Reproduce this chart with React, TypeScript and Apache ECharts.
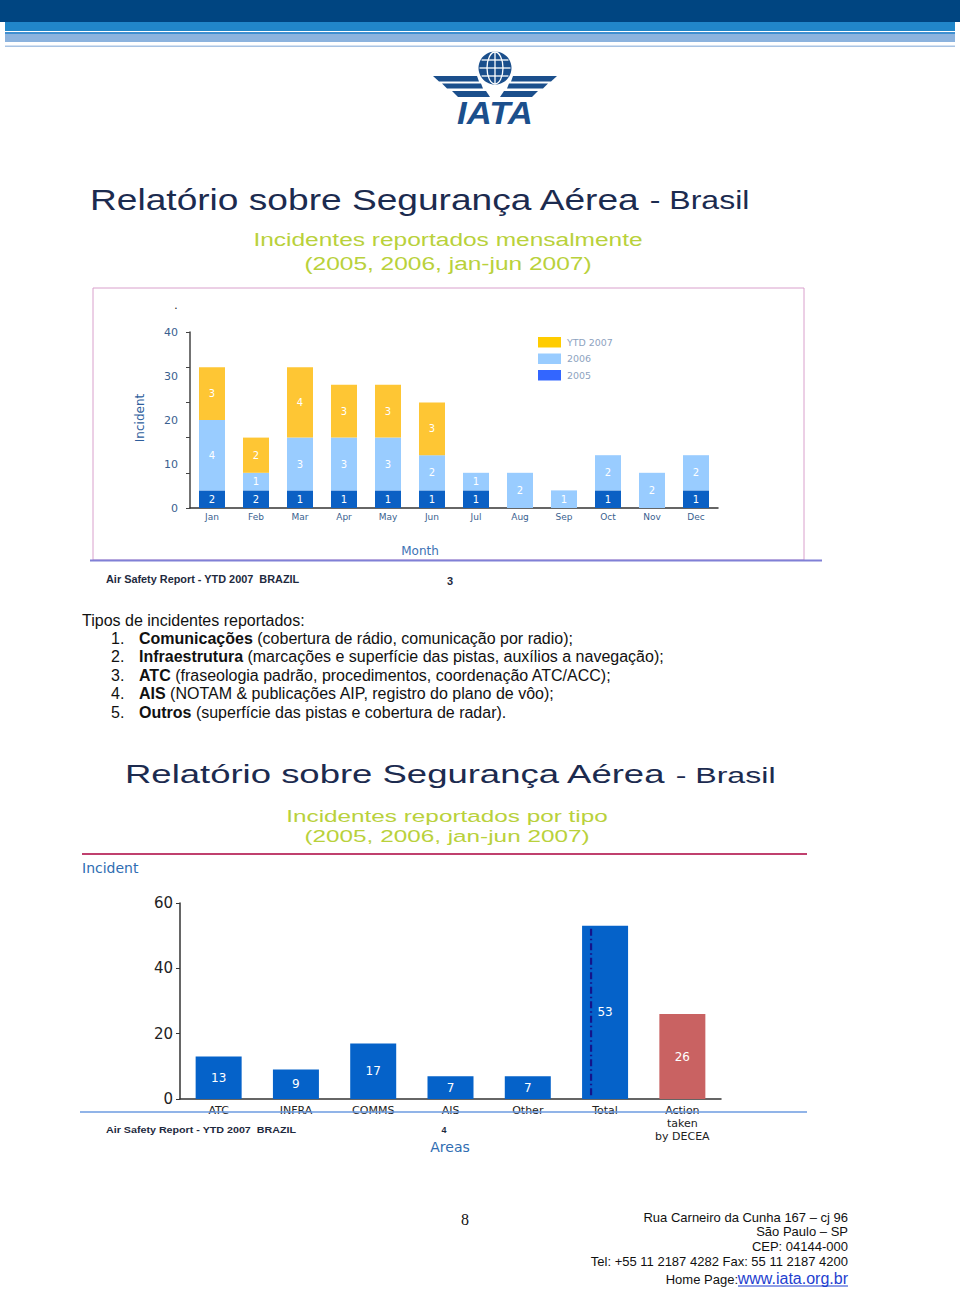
import React, { useEffect, useRef } from "react";
import * as echarts from "echarts";

// ---- Monthly chart data ----
const months = ["Jan", "Feb", "Mar", "Apr", "May", "Jun", "Jul", "Aug", "Sep", "Oct", "Nov", "Dec"];
// counts printed in the segments
const count2005 = [2, 2, 1, 1, 1, 1, 1, null, null, 1, null, 1];
const count2006 = [4, 1, 3, 3, 3, 2, 1, 2, 1, 2, 2, 2];
const count2007 = [3, 2, 4, 3, 3, 3, null, null, null, null, null, null];
// segment heights as drawn against the axis
const height2005 = [4, 4, 4, 4, 4, 4, 4, null, null, 4, null, 4];
const height2006 = [16, 4, 12, 12, 12, 8, 4, 8, 4, 8, 8, 8];
const height2007 = [12, 8, 16, 12, 12, 12, null, null, null, null, null, null];
const legendNames = ["YTD 2007", "2006", "2005"];

// ---- By type chart data ----
const areas = ["ATC", "INFRA", "COMMS", "AIS", "Other", "Total", "Action\ntaken\nby DECEA"];
const areaValues = [13, 9, 17, 7, 7, 53, 26];

const listItems = [
  ["Comunicações", " (cobertura de rádio, comunicação por radio);"],
  ["Infraestrutura", " (marcações e superfície das pistas, auxílios a navegação);"],
  ["ATC", " (fraseologia padrão, procedimentos, coordenação ATC/ACC);"],
  ["AIS", " (NOTAM & publicações AIP, registro do plano de vôo);"],
  ["Outros", " (superfície das pistas e cobertura de radar)."],
];

const addressLines = [
  "Rua Carneiro da Cunha 167 – cj 96",
  "São Paulo – SP",
  "CEP: 04144-000",
  "Tel: +55 11 2187 4282 Fax: 55 11 2187 4200",
];

const C2005 = "#0b60c4";
const C2006 = "#99ccff";
const C2007 = "#fec634";
const NAVY = "#1b4f8c";
const GREEN = "#b9d13b";
const SANS = "Liberation Sans";
const VERD = "DejaVu Sans";

function txt(text: string, x: number, y: number, o: any = {}) {
  const { align = "left", vAlign = "middle", size = 12, color = "#111", weight = "normal", family = SANS, scaleX = 1, rotation = 0, style = {}, z = 10 } = o;
  return {
    type: "text",
    x,
    y,
    scaleX,
    rotation,
    z,
    style: {
      text,
      textAlign: align,
      align,
      textVerticalAlign: vAlign,
      verticalAlign: vAlign,
      fontSize: size,
      fontFamily: family,
      fontWeight: weight,
      fill: color,
      ...style,
    },
  };
}

function rect(x: number, y: number, width: number, height: number, fill: string, extra: any = {}) {
  return { type: "rect", shape: { x, y, width, height }, style: { fill, ...extra }, z: 1 };
}

function poly(points: number[][], fill: string) {
  return { type: "polygon", shape: { points }, style: { fill }, z: 5 };
}

function buildGraphics(): any[] {
  const g: any[] = [];
  // header bands
  g.push(rect(0, 0, 960, 22, "#004581"));
  g.push(rect(5, 22, 950, 9, "#2186c9"));
  g.push(rect(5, 32, 950, 2, "#3f8fd0"));
  g.push(rect(5, 34, 950, 8, "#8cb3de"));
  g.push(rect(5, 45.5, 950, 1.6, "#a9c4e4"));

  // IATA logo
  const cx = 495;
  g.push({ type: "circle", shape: { cx, cy: 68, r: 16.5 }, style: { fill: NAVY }, z: 5 });
  g.push({ type: "ellipse", shape: { cx, cy: 68, rx: 8, ry: 16 }, style: { fill: "none", stroke: "#fff", lineWidth: 1.3 }, z: 6 });
  g.push({ type: "line", shape: { x1: cx, y1: 52, x2: cx, y2: 84 }, style: { stroke: "#fff", lineWidth: 1.3 }, z: 6 });
  [60, 68, 76].forEach((yy) => {
    const dy = Math.abs(yy - 68);
    const hw = Math.sqrt(16.5 * 16.5 - dy * dy) - 1;
    g.push({ type: "line", shape: { x1: cx - hw, y1: yy, x2: cx + hw, y2: yy }, style: { stroke: "#fff", lineWidth: 1.3 }, z: 6 });
  });
  const wing = [
    [[433, 76], [477, 76], [479, 81.5], [439, 81.5]],
    [[442, 83.5], [481, 83.5], [483, 88.5], [447, 88.5]],
    [[452, 91], [486, 91], [490, 97], [458, 97]],
  ];
  wing.forEach((p) => {
    g.push(poly(p, NAVY));
    g.push(poly(p.map(([x, y]) => [2 * cx - x, y]), NAVY));
  });
  g.push(txt("IATA", cx, 113, { align: "center", size: 31, weight: "bold", color: NAVY, scaleX: 1.12, style: { fontStyle: "italic" } }));

  // Title 1
  g.push(
    txt("{a|Relatório sobre Segurança Aérea}{b| - Brasil}", 90, 200, {
      scaleX: 1.28,
      style: {
        rich: {
          a: { fontSize: 29, fontFamily: SANS, fill: "#1c2b4f", color: "#1c2b4f" },
          b: { fontSize: 25, fontFamily: SANS, fill: "#1c2b4f", color: "#1c2b4f" },
        },
      },
    })
  );
  g.push(txt("Incidentes reportados mensalmente", 448, 240, { align: "center", size: 19, color: GREEN, scaleX: 1.29 }));
  g.push(txt("(2005, 2006, jan-jun 2007)", 448, 264, { align: "center", size: 19, color: GREEN, scaleX: 1.29 }));

  // top chart frame
  g.push({ type: "rect", shape: { x: 93, y: 288, width: 711, height: 272 }, style: { fill: "none", stroke: "#d9a0cc", lineWidth: 1 }, z: 1 });
  g.push({ type: "line", shape: { x1: 90, y1: 560.5, x2: 822, y2: 560.5 }, style: { stroke: "#8080d6", lineWidth: 2 }, z: 2 });
  g.push(txt(".", 176, 305, { size: 12, color: "#222", align: "center" }));
  g.push(txt("Incident", 140, 418, { align: "center", size: 12, color: "#2e5e9c", family: VERD, rotation: Math.PI / 2 }));
  g.push(txt("Month", 420, 551, { align: "center", size: 12, color: "#3c72b4", family: VERD }));

  // legend
  const legColors = ["#ffcc00", "#99ccff", "#3366ff"];
  legendNames.forEach((n, i) => {
    const y = 337 + i * 16.5;
    g.push(rect(538, y, 23, 10.5, legColors[i]));
    g.push(txt(n, 567, y + 5.5, { size: 9, color: "#8da2c0", family: VERD, scaleX: 1.05 }));
  });

  g.push(txt("Air Safety Report - YTD 2007  BRAZIL", 106, 580, { size: 10, weight: "bold", color: "#1e2a3e", scaleX: 1.09 }));
  g.push(txt("3", 450, 581, { size: 11, weight: "bold", color: "#1e2a3e", align: "center" }));

  // list
  g.push(txt("Tipos de incidentes reportados:", 82, 620, { size: 16, color: "#111" }));
  listItems.forEach(([b, r], i) => {
    const y = 638 + i * 18.5;
    g.push(txt(`${i + 1}.`, 111, y, { size: 16, color: "#111" }));
    g.push(
      txt(`{b|${b}}{r|${r}}`, 139, y, {
        style: {
          rich: {
            b: { fontSize: 16, fontWeight: "bold", fontFamily: SANS, fill: "#111", color: "#111" },
            r: { fontSize: 16, fontFamily: SANS, fill: "#111", color: "#111" },
          },
        },
      })
    );
  });

  // Title 2
  g.push(
    txt("{a|Relatório sobre Segurança Aérea}{b| - Brasil}", 125, 775, {
      scaleX: 1.46,
      style: {
        rich: {
          a: { fontSize: 25, fontFamily: SANS, fill: "#1c2b4f", color: "#1c2b4f" },
          b: { fontSize: 22, fontFamily: SANS, fill: "#1c2b4f", color: "#1c2b4f" },
        },
      },
    })
  );
  g.push(txt("Incidentes reportados por tipo", 447, 816, { align: "center", size: 17, color: GREEN, scaleX: 1.43 }));
  g.push(txt("(2005, 2006, jan-jun 2007)", 447, 836, { align: "center", size: 17, color: GREEN, scaleX: 1.43 }));
  g.push({ type: "line", shape: { x1: 82, y1: 854, x2: 807, y2: 854 }, style: { stroke: "#c0406e", lineWidth: 2 }, z: 2 });
  g.push(txt("Incident", 82, 868, { size: 14, color: "#2f6db2", family: VERD }));

  // bottom chart footer
  g.push({ type: "line", shape: { x1: 80, y1: 1112, x2: 807, y2: 1112 }, style: { stroke: "#6d9be0", lineWidth: 1.5 }, z: 1 });
  g.push(txt("Air Safety Report - YTD 2007  BRAZIL", 106, 1130, { size: 9, weight: "bold", color: "#1e2a3e", scaleX: 1.19 }));
  g.push(txt("4", 444, 1130, { size: 9, weight: "bold", color: "#1e2a3e", align: "center" }));
  g.push(txt("Areas", 450, 1147, { size: 14, color: "#2f6db2", family: VERD, align: "center" }));

  // page footer
  g.push(txt("8", 465, 1219, { size: 16, color: "#111", family: "Liberation Serif", align: "center" }));
  addressLines.forEach((l, i) => {
    g.push(txt(l, 848, 1217 + i * 14.7, { size: 13, color: "#111", align: "right" }));
  });
  g.push(txt("www.iata.org.br", 848, 1278, { size: 16, color: "#1f3fcf", align: "right" }));
  g.push(txt("Home Page:", 738, 1279, { size: 13, color: "#111", align: "right" }));
  g.push({ type: "line", shape: { x1: 738, y1: 1286, x2: 848, y2: 1286 }, style: { stroke: "#1f3fcf", lineWidth: 1 }, z: 2 });
  return g;
}

const segLabel = (counts: (number | null)[]) => ({
  show: true,
  position: "inside",
  color: "#fff",
  fontSize: 10,
  fontFamily: VERD,
  formatter: (p: any) => (counts[p.dataIndex] == null ? "" : String(counts[p.dataIndex])),
});

export default function App() {
  const ref = useRef<HTMLDivElement>(null);
  useEffect(() => {
    if (!ref.current) return;
    const chart = echarts.init(ref.current, undefined, { renderer: "svg" });
    const graphics = buildGraphics();
    const option: any = {
      animation: false,
      backgroundColor: "#fff",
      textStyle: { fontFamily: VERD },
      grid: [
        { left: 190, top: 332, width: 528, height: 176 },
        { left: 180, top: 903, width: 541, height: 196 },
      ],
      xAxis: [
        {
          type: "category",
          gridIndex: 0,
          data: months,
          axisLine: { lineStyle: { color: "#333", width: 1.5 } },
          axisTick: { show: false },
          axisLabel: { color: "#3a5f8f", fontSize: 9, margin: 4, fontFamily: VERD },
        },
        {
          type: "category",
          gridIndex: 1,
          data: areas,
          axisLine: { lineStyle: { color: "#333", width: 1.5 } },
          axisTick: { show: false },
          axisLabel: { color: "#222", fontSize: 11, margin: 5, lineHeight: 13, fontFamily: VERD, verticalAlign: "top" },
        },
      ],
      yAxis: [
        {
          type: "value",
          gridIndex: 0,
          min: 0,
          max: 40,
          interval: 8,
          axisLine: { show: true, lineStyle: { color: "#444", width: 1.5 } },
          axisTick: { show: true, length: 4, lineStyle: { color: "#444" } },
          axisLabel: { show: false },
          splitLine: { show: false },
        },
        {
          type: "value",
          gridIndex: 0,
          min: 0,
          max: 40,
          interval: 10,
          position: "left",
          axisLine: { show: false },
          axisTick: { show: false },
          axisLabel: { color: "#3a5f8f", fontSize: 11, margin: 12, fontFamily: VERD },
          splitLine: { show: false },
        },
        {
          type: "value",
          gridIndex: 1,
          min: 0,
          max: 60,
          interval: 20,
          axisLine: { show: true, lineStyle: { color: "#333", width: 1.5 } },
          axisTick: { show: true, length: 4, lineStyle: { color: "#333" } },
          axisLabel: { color: "#222", fontSize: 15, margin: 7, fontFamily: VERD },
          splitLine: { show: false },
        },
      ],
      series: [
        { name: "2005", type: "bar", stack: "m", xAxisIndex: 0, yAxisIndex: 0, barWidth: 26, data: height2005, itemStyle: { color: C2005 }, label: segLabel(count2005) },
        { name: "2006", type: "bar", stack: "m", xAxisIndex: 0, yAxisIndex: 0, barWidth: 26, data: height2006, itemStyle: { color: C2006 }, label: segLabel(count2006) },
        { name: "YTD 2007", type: "bar", stack: "m", xAxisIndex: 0, yAxisIndex: 0, barWidth: 26, data: height2007, itemStyle: { color: C2007 }, label: segLabel(count2007) },
        {
          name: "Areas",
          type: "bar",
          xAxisIndex: 1,
          yAxisIndex: 2,
          barWidth: 46,
          data: areaValues.map((v, i) => ({ value: v, itemStyle: { color: i === areas.length - 1 ? "#c96262" : "#0562c9" } })),
          label: { show: true, position: "inside", color: "#fff", fontSize: 12, fontFamily: VERD },
        },
      ],
      graphic: { elements: graphics },
    };
    chart.setOption(option);
    // dash-dot line inside the Total bar
    const ti = areas.indexOf("Total");
    const top = chart.convertToPixel({ seriesIndex: 3 }, [ti, areaValues[ti]]) as number[];
    const bot = chart.convertToPixel({ seriesIndex: 3 }, [ti, 0]) as number[];
    if (top && bot) {
      const lx = top[0] - 14;
      graphics.push({
        type: "line",
        shape: { x1: lx, y1: top[1] + 3, x2: lx, y2: bot[1] - 2 },
        style: { stroke: "#14148a", lineWidth: 2.2, lineDash: [7, 3, 1.5, 3] },
        z: 100,
      });
      chart.setOption({ graphic: { elements: graphics } }, { replaceMerge: ["graphic"] });
    }
    return () => chart.dispose();
  }, []);
  return <div ref={ref} style={{ position: "absolute", left: 0, top: 0, width: 960, height: 1292, background: "#fff" }} />;
}
